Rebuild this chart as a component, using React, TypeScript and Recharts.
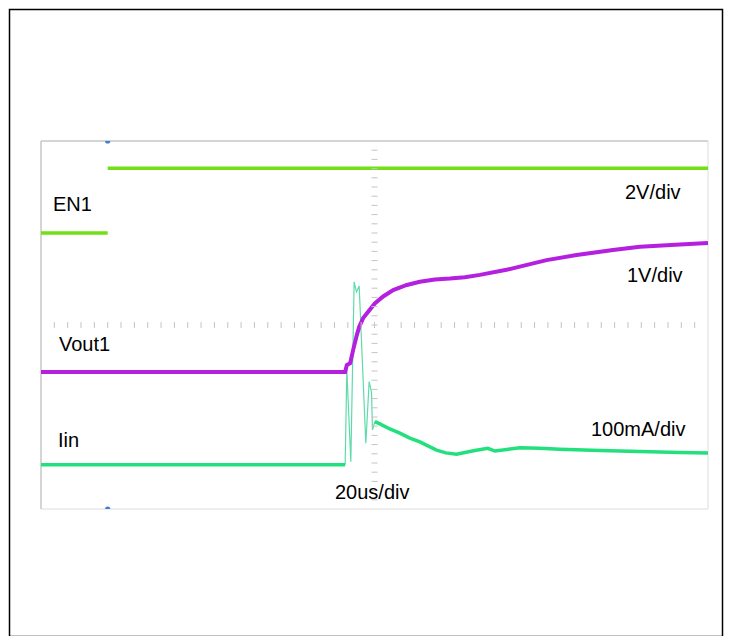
import React from 'react';
import { ComposedChart, Line, Scatter, XAxis, YAxis, CartesianGrid, ReferenceLine } from 'recharts';

// time axis: 20 us/div, 10 divisions; vertical: 8 divisions (bottom = 0)
const timeGridTicks = [0, 20, 40, 60, 80, 100, 120, 140, 160, 180];
const divGridTicks = [1, 2, 3, 4, 5, 6, 7, 8];

// EN1 (2V/div), in divisions
const en1Time = [0, 20, 20, 20, 200];
const en1Div = [6.0, 6.0, null, 7.41, 7.41];

// Vout1 (1V/div)
const voutTime = [0, 91.2, 91.7, 92.7, 93.6, 94.7, 95.4, 96.6, 98.1, 100.1, 102.6, 105.6, 109.7, 113.6, 118.1, 122.6, 127.1, 131.6, 139.6, 151.6, 160.6, 171.5, 179.6, 191.6, 200];
const voutDiv = [2.98, 2.98, 3.13, 3.17, 3.46, 3.78, 3.96, 4.15, 4.29, 4.47, 4.62, 4.76, 4.87, 4.94, 4.99, 5.01, 5.04, 5.09, 5.2, 5.41, 5.52, 5.63, 5.7, 5.75, 5.78];

// Iin (100mA/div)
const iinTime = [0, 91.2, 95, 100.1, 101.6, 104.6, 107.6, 110.6, 113.6, 118.6, 121.4, 124.6, 127.1, 130.1, 134.0, 136.1, 139.1, 143.6, 149.6, 155.6, 167.6, 179.6, 191.6, 200];
const iinDiv = [0.96, 0.96, null, 1.9, 1.85, 1.74, 1.65, 1.54, 1.46, 1.28, 1.22, 1.19, 1.23, 1.27, 1.32, 1.26, 1.29, 1.33, 1.32, 1.3, 1.27, 1.25, 1.23, 1.22];

// Iin inrush transient (thin trace)
const spikeTime = [91.2, 91.7, 92.9, 93.9, 94.6, 95.4, 97.4, 98.4, 99.1, 99.4, 100.1];
const spikeDiv = [0.96, 3.02, 1.03, 4.94, 4.72, 4.85, 1.43, 2.77, 2.54, 1.72, 1.9];

// trigger markers
const triggerTime = [20, 20];
const triggerDiv = [8, 0];

const zip = (ts: number[], vs: (number | null)[]) => ts.map((t, i) => ({ t, v: vs[i] }));

const en1Data = zip(en1Time, en1Div);
const voutData = zip(voutTime, voutDiv);
const iinData = zip(iinTime, iinDiv);
const spikeData = zip(spikeTime, spikeDiv);
const triggerData = zip(triggerTime, triggerDiv);

// minor graticule ticks on the centre cross (5 per division)
const minorOnVertical = Array.from({ length: 41 }, (_, i) => ({ t: 100, v: i * 0.2 })).filter((p) => p.v > 0 && p.v < 8);
const minorOnHorizontal = Array.from({ length: 51 }, (_, i) => ({ t: i * 4, v: 4 })).filter((p) => p.t > 0 && p.t < 200);

const labels = [
  { text: 'EN1', x: 53, y: 211 },
  { text: '2V/div', x: 625, y: 198.5 },
  { text: '1V/div', x: 627, y: 281.5 },
  { text: 'Vout1', x: 59, y: 351 },
  { text: 'Iin', x: 58, y: 446.5 },
  { text: '100mA/div', x: 591, y: 436 },
  { text: '20us/div', x: 335, y: 498.5 },
];

const HTick = (p: any) => <line x1={p.cx - 3} x2={p.cx + 3} y1={p.cy} y2={p.cy} stroke="#c4c4c4" strokeWidth={1} />;
const VTick = (p: any) => <line x1={p.cx} x2={p.cx} y1={p.cy - 3} y2={p.cy + 3} stroke="#c4c4c4" strokeWidth={1} />;
const Marker = (p: any) => <circle cx={p.cx} cy={p.cy} r={2.6} fill="#3b7fd9" />;

export default function App() {
  return (
    <div style={{ position: 'relative', width: 716, height: 628 }}>
      <div style={{ position: 'absolute', left: -8, top: -8 }}>
        <ComposedChart width={732} height={644} margin={{ top: 141, left: 41, right: 24, bottom: 135 }}>
          <XAxis type="number" dataKey="t" domain={[0, 200]} ticks={timeGridTicks} tick={false} axisLine={false} tickLine={false} height={0} allowDataOverflow />
          <YAxis type="number" dataKey="v" domain={[0, 8]} ticks={divGridTicks} tick={false} axisLine={false} tickLine={false} width={0} allowDataOverflow />
          <CartesianGrid stroke="#dcdcdc" strokeWidth={1} />
          <ReferenceLine x={0} stroke="#bdbdbd" strokeWidth={1} />
          <ReferenceLine y={8} stroke="#bdbdbd" strokeWidth={1} />
          <Scatter data={minorOnVertical} shape={HTick} isAnimationActive={false} />
          <Scatter data={minorOnHorizontal} shape={VTick} isAnimationActive={false} />
          <Line data={en1Data} dataKey="v" type="linear" stroke="#72e014" strokeWidth={3.5} dot={false} isAnimationActive={false} />
          <Line data={spikeData} dataKey="v" type="linear" stroke="#5fdbab" strokeWidth={1.2} dot={false} isAnimationActive={false} />
          <Line data={iinData} dataKey="v" type="linear" stroke="#22e07c" strokeWidth={3.5} dot={false} isAnimationActive={false} />
          <Line data={voutData} dataKey="v" type="linear" stroke="#b41fe0" strokeWidth={4} dot={false} isAnimationActive={false} />
          <Scatter data={triggerData} shape={Marker} isAnimationActive={false} />
        </ComposedChart>
      </div>
      <svg width={732} height={644} style={{ position: 'absolute', left: -8, top: -8, pointerEvents: 'none' }}>
        <rect x={9.5} y={9.5} width={713} height={627} fill="none" stroke="#000" strokeWidth={1.5} />
        {labels.map((l) => (
          <text key={l.text} x={l.x} y={l.y} fontFamily="'Liberation Sans', Arial, sans-serif" fontSize={20} fill="#000">
            {l.text}
          </text>
        ))}
      </svg>
    </div>
  );
}
